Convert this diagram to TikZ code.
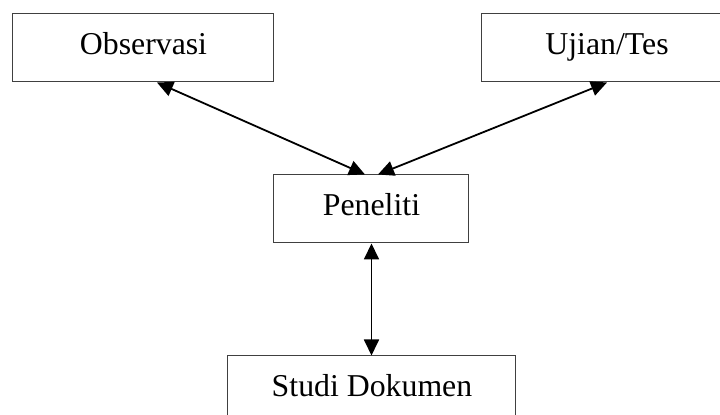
\documentclass[tikz,border=0pt]{standalone}
\usepackage{fontspec}
\setmainfont{Liberation Serif}
\usetikzlibrary{arrows.meta}

\begin{document}
\begin{tikzpicture}[x=0.5pt,y=-0.5pt,
  kotak/.style={draw=black!75, line width=0.5pt, minimum height=34pt,
    text height=11pt, text depth=4pt, font=\fontsize{15.9}{19}\selectfont},
  panah/.style={{Triangle[length=8pt,width=7.5pt]}-{Triangle[length=8pt,width=7.5pt]}, line width=0.9pt}]
\useasboundingbox (0,0) rectangle (720,415);
\clip (0,0) rectangle (720,415);
% kotak
\node[kotak, minimum width=130.5pt] (obs) at (143.5,48) {Observasi};
\node[kotak, minimum width=125pt] (tes) at (607,48) {Ujian/Tes};
\node[kotak, minimum width=97.5pt] (pen) at (371.5,209) {Peneliti};
\node[kotak, minimum width=144pt] (dok) at (372,390) {Studi Dokumen};
% panah
\draw[panah] ([xshift=6.75pt]obs.south) -- ([xshift=-3.25pt]pen.north);
\draw[panah] (tes.south) -- ([xshift=3.25pt]pen.north);
\draw[panah] (pen.south) -- (pen.south |- dok.north);
\end{tikzpicture}
\end{document}
